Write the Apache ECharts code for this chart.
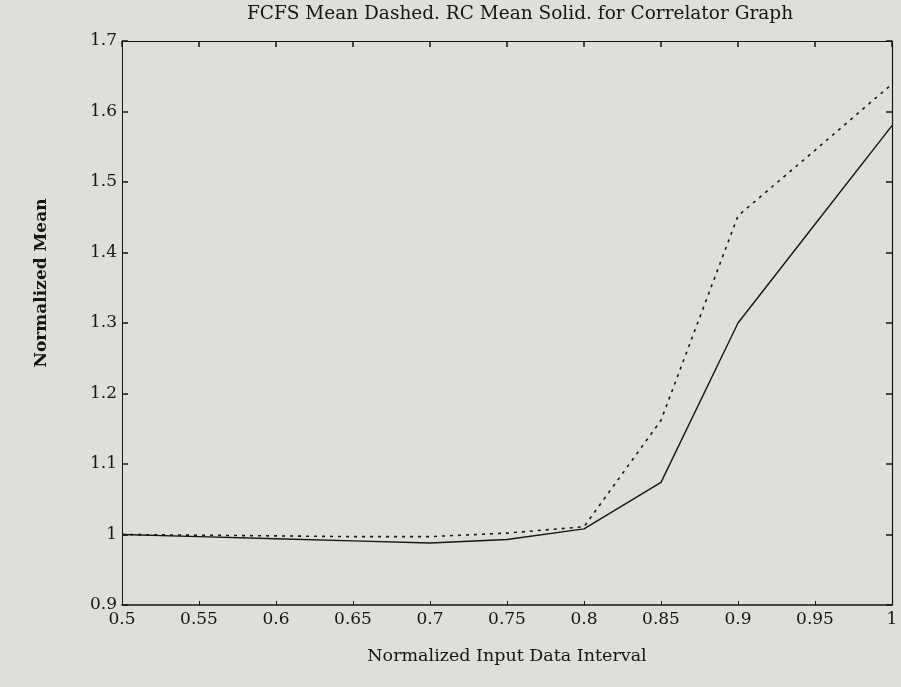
<!DOCTYPE html>
<html>
<head>
<meta charset="utf-8">
<script src="https://cdn.jsdelivr.net/npm/echarts@6/dist/echarts.min.js"></script>
<style>
  html, body { margin: 0; padding: 0; background: #dedfd8; }
  #main { width: 901px; height: 687px; }
</style>
</head>
<body>
<div id="main"></div>
<script>
// input data interval (x)
const xValues = [0.5, 0.55, 0.6, 0.65, 0.7, 0.75, 0.8, 0.85, 0.9, 0.95, 1];
// FCFS mean (dashed)
const fcfsMean = [1.0, 0.999, 0.998, 0.997, 0.997, 1.002, 1.011, 1.162, 1.452, 1.545, 1.639];
// RC mean (solid)
const rcMean = [1.0, 0.997, 0.994, 0.991, 0.988, 0.993, 1.008, 1.074, 1.300, 1.440, 1.580];

const font = 'DejaVu Serif';
const ink = '#151515';

const chart = echarts.init(document.getElementById('main'));

const pairs = (ys) => xValues.map((x, i) => [x, ys[i]]);

const frameAxis = {
  axisLine: { show: true, lineStyle: { color: ink, width: 1.2 } },
  axisTick: { show: true, inside: true, length: 6, lineStyle: { color: ink, width: 1.5 } },
  axisLabel: { show: false },
  splitLine: { show: false }
};

chart.setOption({
  backgroundColor: '#dedfd8',
  animation: false,
  title: {
    text: 'FCFS Mean Dashed. RC Mean Solid. for Correlator Graph',
    left: 515,
    textAlign: 'center',
    top: 0,
    textStyle: { fontFamily: font, fontSize: 18.5, fontWeight: 'normal', color: ink }
  },
  // y axis name sits a bit above the plot centre in the original
  graphic: [{
    type: 'text',
    x: 42, y: 283,
    rotation: Math.PI / 2,
    style: {
      text: 'Normalized Mean',
      fontFamily: font, fontSize: 17, fontWeight: 'bold', fill: ink,
      align: 'center', verticalAlign: 'middle'
    }
  }],
  grid: { left: 122, right: 9, top: 41, bottom: 82 },
  xAxis: [
    {
      type: 'value', min: 0.5, max: 1, interval: 0.05,
      name: 'Normalized Input Data Interval',
      nameLocation: 'middle', nameGap: 42,
      nameTextStyle: { fontFamily: font, fontSize: 17.5, color: ink },
      axisLine: { show: true, lineStyle: { color: ink, width: 1.5 } },
      axisTick: { show: true, inside: true, length: 4, lineStyle: { color: ink } },
      axisLabel: { fontFamily: font, fontSize: 17, color: ink, margin: 6 },
      splitLine: { show: false }
    },
    Object.assign({ type: 'value', position: 'top', min: 0.5, max: 1, interval: 0.05 }, frameAxis)
  ],
  yAxis: [
    {
      type: 'value', min: 0.9, max: 1.7, interval: 0.1,
      axisLine: { show: true, lineStyle: { color: ink, width: 1 } },
      axisTick: { show: true, inside: true, length: 6, lineStyle: { color: ink, width: 1.5 } },
      axisLabel: { fontFamily: font, fontSize: 17, color: ink, margin: 5 },
      splitLine: { show: false }
    },
    Object.assign({ type: 'value', position: 'right', min: 0.9, max: 1.7, interval: 0.1 }, frameAxis)
  ],
  series: [
    {
      name: 'FCFS',
      type: 'line',
      data: pairs(fcfsMean),
      showSymbol: false,
      lineStyle: { color: ink, width: 1.6, type: [3, 5] }
    },
    {
      name: 'RC',
      type: 'line',
      data: pairs(rcMean),
      showSymbol: false,
      lineStyle: { color: ink, width: 1.4 }
    }
  ]
});
</script>
</body>
</html>
